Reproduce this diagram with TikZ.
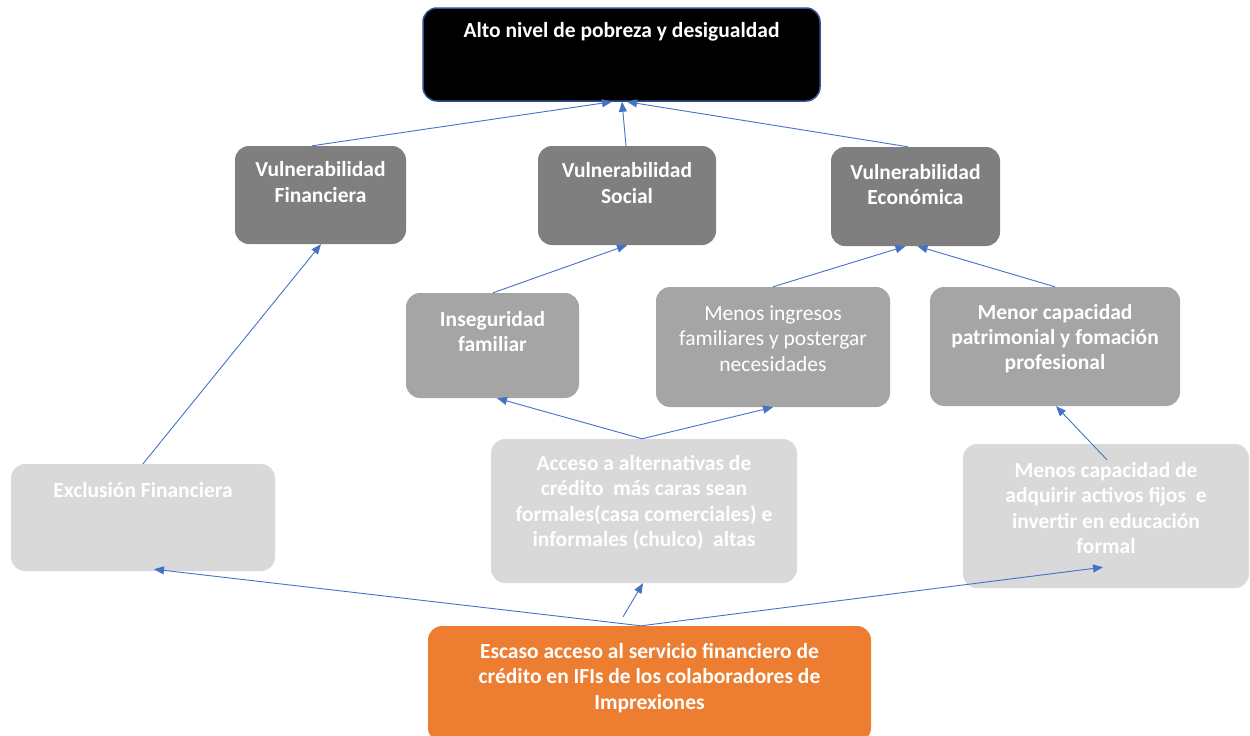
\documentclass[tikz,border=0pt]{standalone}
\usepackage{fontspec}
\setmainfont{Carlito}
\usetikzlibrary{arrows.meta}
\definecolor{dg}{HTML}{7F7F7F}
\definecolor{mg}{HTML}{A5A5A5}
\definecolor{lg}{HTML}{D9D9D9}
\definecolor{org}{HTML}{ED7D31}
\definecolor{arr}{HTML}{4472C4}
\definecolor{bdr}{HTML}{2F528F}
\begin{document}
\begin{tikzpicture}[x=1pt,y=-1pt,
 box/.style={rounded corners=14pt, draw=none, inner sep=0pt},
 txt/.style={text=white, align=center, font=\fontsize{21.5}{25.2}\selectfont, inner sep=0pt},
 btxt/.style={txt, font=\fontsize{21.5}{25.2}\selectfont\bfseries},
 link/.style={draw=arr, line width=0.9pt, -{Triangle[length=10pt,width=8pt]}}]
\useasboundingbox (0,0) rectangle (1250,736);
% boxes
\node[box, fill=black, draw=bdr, line width=1.5pt, minimum width=397pt, minimum height=93pt] (top) at (621.5,54.5) {};
\node[box, fill=dg, minimum width=171pt, minimum height=98pt] (vf) at (320.5,195) {};
\node[box, fill=dg, minimum width=178pt, minimum height=99pt] (vs) at (627,195.5) {};
\node[box, fill=dg, minimum width=169pt, minimum height=99pt] (ve) at (915.5,196.5) {};
\node[box, fill=mg, minimum width=173pt, minimum height=105pt] (ins) at (492.5,345.5) {};
\node[box, fill=mg, minimum width=234pt, minimum height=120pt] (ing) at (773,347) {};
\node[box, fill=mg, minimum width=250pt, minimum height=119pt] (pat) at (1055,346.5) {};
\node[box, fill=lg, minimum width=264pt, minimum height=107pt] (exc) at (143,517.5) {};
\node[box, fill=lg, minimum width=306pt, minimum height=144pt] (acc) at (644,511) {};
\node[box, fill=lg, minimum width=286pt, minimum height=144pt] (act) at (1106,516) {};
\node[box, fill=org, minimum width=443pt, minimum height=116pt] (esc) at (649.5,684) {};
% texts
\node[btxt] (top-t) at (621.5,32) {Alto nivel de pobreza y desigualdad};
\node[btxt] (vf-t) at (320.5,182) {Vulnerabilidad\\Financiera};
\node[btxt] (vs-t) at (627,183) {Vulnerabilidad\\Social};
\node[btxt] (ve-t) at (915.5,184.5) {Vulnerabilidad\\Económica};
\node[btxt] (ins-t) at (492.5,331.5) {Inseguridad\\familiar};
\node[txt] (ing-t) at (773,338.5) {Menos ingresos\\familiares y postergar\\necesidades};
\node[btxt] (pat-t) at (1055,338.5) {Menor capacidad\\patrimonial y fomación\\profesional};
\node[btxt] (exc-t) at (143,490) {Exclusión Financiera};
\node[btxt] (acc-t) at (644,502.5) {Acceso a alternativas de\\crédito\ \ más caras sean\\formales(casa comerciales) e\\informales (chulco)\ \ altas};
\node[btxt] (act-t) at (1106,508) {Menos capacidad de\\adquirir activos fijos\ \ e\\invertir en educación\\formal};
\node[btxt] (esc-t) at (649.5,678) {Escaso acceso al servicio financiero de\\crédito en IFIs de los colaboradores de\\Imprexiones};
% connectors
\draw[link] ([xshift=-8.5pt]vf.north) -- ([xshift=-9.5pt]top.south);
\draw[link] ([xshift=-1pt]vs.north) -- ([xshift=0.5pt]top.south);
\draw[link] ([xshift=-7.5pt]ve.north) -- ([xshift=5.5pt]top.south);
\draw[link] ([xshift=0.5pt]ins.north) -- (vs.south);
\draw[link] (ing.north) -- ([xshift=-10pt]ve.south);
\draw[link] (pat.north) -- ([xshift=2pt]ve.south);
\draw[link] ([xshift=-2pt]acc.north) -- ([xshift=4.5pt]ins.south);
\draw[link] ([xshift=-2pt]acc.north) -- (ing.south);
\draw[link] ([xshift=1pt,yshift=-16pt]act.north) -- ([xshift=1pt]pat.south);
\draw[link] (exc.north) -- ([xshift=0.5pt]vf.south);
\draw[link] ([xshift=-8.5pt]esc.north) -- ([xshift=11pt,yshift=2pt]exc.south);
\draw[link] ([xshift=-8.5pt]esc.north) -- ([xshift=-3pt,yshift=21pt]act.south);
\coordinate (sa) at ([xshift=-26.5pt,yshift=9pt]esc.north);
\draw[link] (sa) -- ([xshift=-1pt]acc.south);
\end{tikzpicture}
\end{document}
